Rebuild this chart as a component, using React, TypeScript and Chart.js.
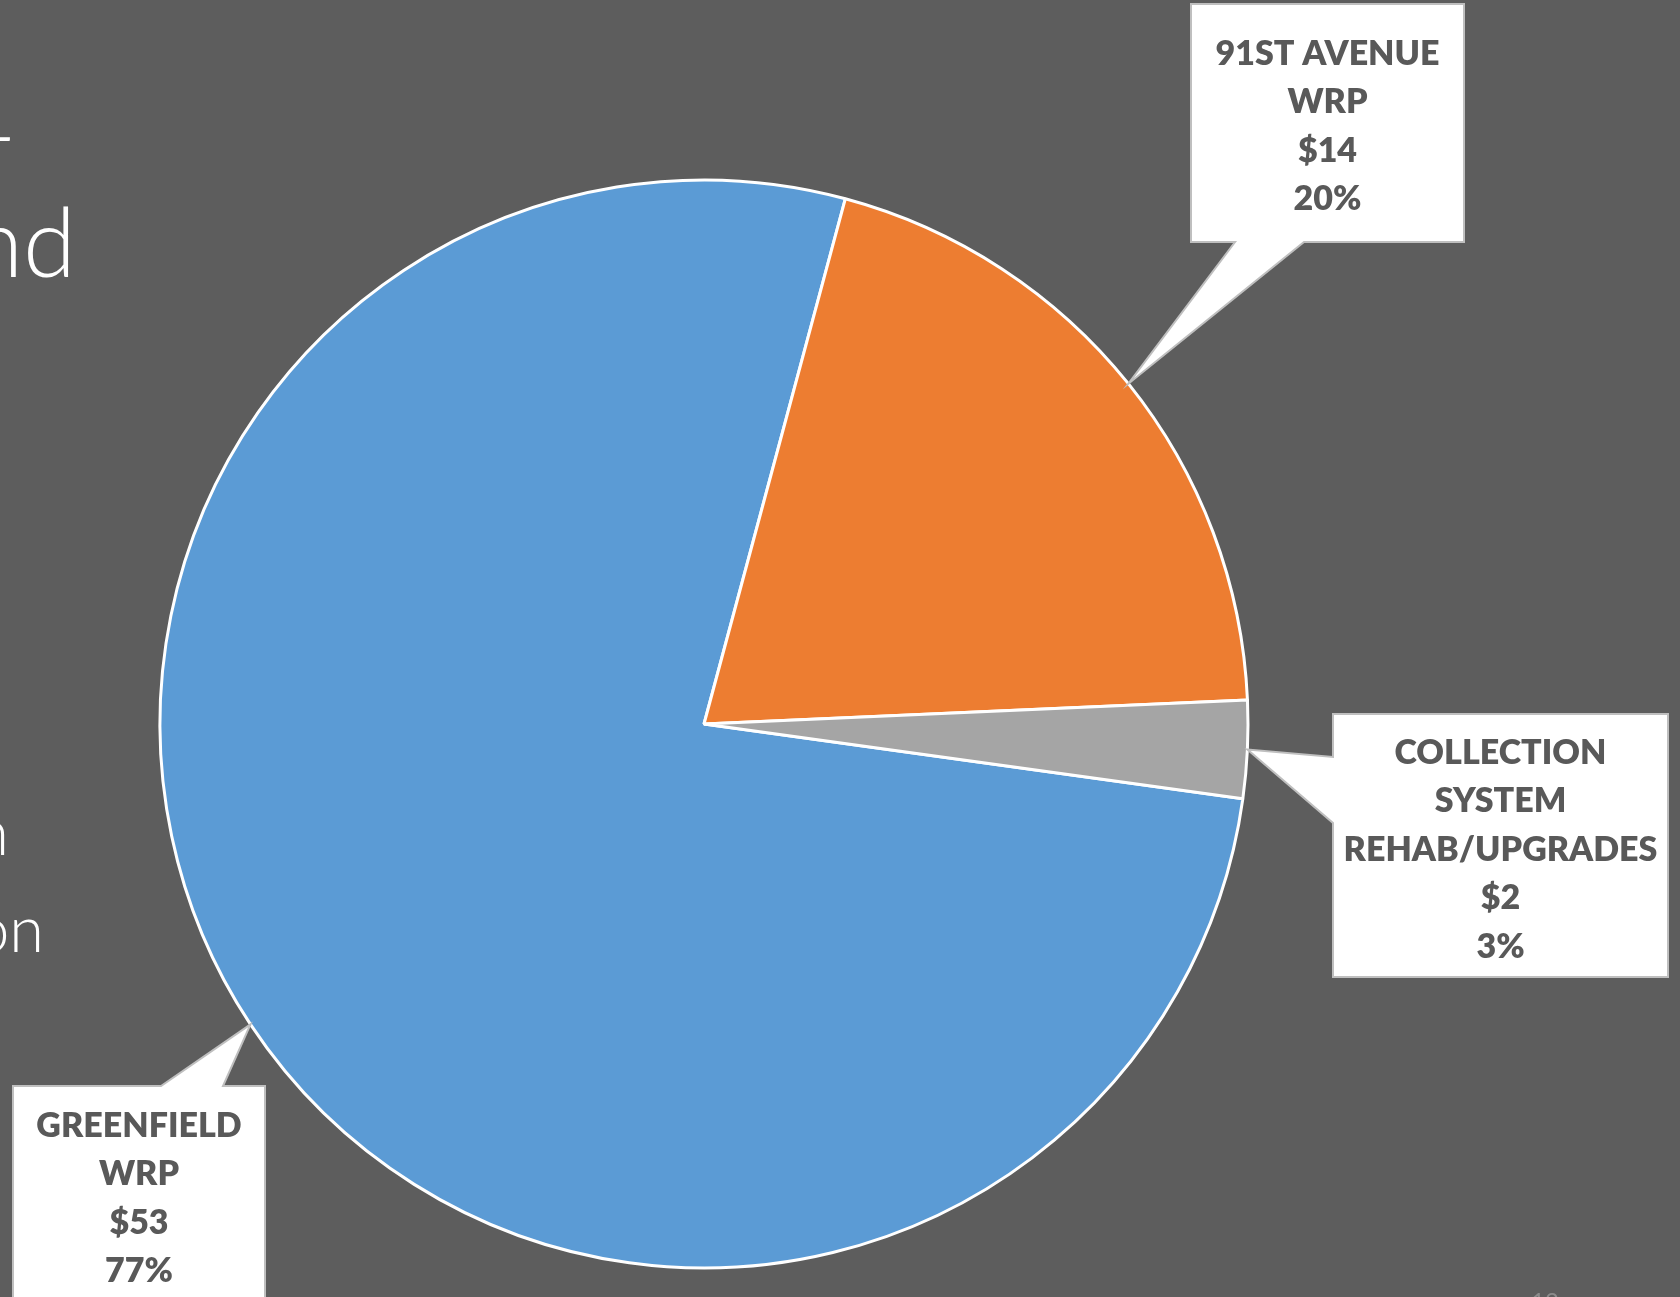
import React, { useEffect, useRef } from "react";
import { Chart, registerables } from "chart.js";

Chart.register(...registerables);

// ---- data ----
const categories = ["GREENFIELD WRP", "91ST AVENUE WRP", "COLLECTION SYSTEM REHAB/UPGRADES"];
// slice sizes (labels show rounded $ values)
const values = [53.2, 13.9, 2.0];
const labelLines = [["GREENFIELD", "WRP"], ["91ST AVENUE", "WRP"], ["COLLECTION", "SYSTEM", "REHAB/UPGRADES"]];
const valueLabels = ["$53", "$14", "$2"];
const percentLabels = ["77%", "20%", "3%"];
const colors = ["#5B9BD5", "#ED7D31", "#A5A5A5"];

// background slide text fragments (cut off at the left edge)
const slideFragments = ["4", "nd", "n", "on"];
const pageNumber = "12";

// ---- layout (positions of callout boxes) ----
type Callout = { box: [number, number, number, number]; side: "top" | "bottom" | "left"; base: [number, number]; firstLineY: number };
const callouts: Callout[] = [
  { box: [13, 1086, 265, 1340], side: "top", base: [161, 223], firstLineY: 1126 },
  { box: [1191, 4, 1464, 242], side: "bottom", base: [1304, 1235], firstLineY: 54 },
  { box: [1333, 714, 1668, 977], side: "left", base: [823, 757], firstLineY: 753 },
];
const fragmentPos = [
  { right: 13, baseline: 161, size: 96 },
  { right: 76, baseline: 277, size: 96 },
  { right: 9, baseline: 855, size: 63 },
  { right: 44, baseline: 952, size: 63 },
];

const W = 1680;
const H = 1297;

const calloutPlugin = {
  id: "callouts",
  afterDraw(chart: any) {
    const ctx: CanvasRenderingContext2D = chart.ctx;
    const meta = chart.getDatasetMeta(0);
    ctx.save();
    // slide text fragments
    ctx.fillStyle = "#FFFFFF";
    ctx.textAlign = "right";
    ctx.textBaseline = "alphabetic";
    slideFragments.forEach((t, i) => {
      const p = fragmentPos[i];
      ctx.font = `300 ${p.size}px Lato, "Open Sans", sans-serif`;
      ctx.fillText(t, p.right, p.baseline);
    });
    ctx.fillStyle = "#8C8C8C";
    ctx.textAlign = "left";
    ctx.font = `24px Lato, sans-serif`;
    ctx.fillText(pageNumber, 1531, 1310);

    meta.data.forEach((arc: any, i: number) => {
      const c = callouts[i];
      if (!c) return;
      const mid = (arc.startAngle + arc.endAngle) / 2;
      const tx = arc.x + Math.cos(mid) * arc.outerRadius;
      const ty = arc.y + Math.sin(mid) * arc.outerRadius;
      const [L, T, R, B] = c.box;
      let pts: [number, number][] = [];
      if (c.side === "top") {
        pts = [[L, T], [c.base[0], T], [tx, ty], [c.base[1], T], [R, T], [R, B], [L, B]];
      } else if (c.side === "bottom") {
        pts = [[L, T], [R, T], [R, B], [c.base[0], B], [tx, ty], [c.base[1], B], [L, B]];
      } else {
        pts = [[L, T], [R, T], [R, B], [L, B], [L, c.base[0]], [tx, ty], [L, c.base[1]]];
      }
      ctx.beginPath();
      pts.forEach(([x, y], k) => (k === 0 ? ctx.moveTo(x, y) : ctx.lineTo(x, y)));
      ctx.closePath();
      ctx.fillStyle = "#FFFFFF";
      ctx.fill();
      ctx.lineWidth = 2;
      ctx.strokeStyle = "#BFBFBF";
      ctx.stroke();

      const lines = [...labelLines[i], valueLabels[i], percentLabels[i]];
      ctx.fillStyle = "#595959";
      ctx.textAlign = "center";
      ctx.textBaseline = "middle";
      ctx.font = `800 34px Lato, "Open Sans", sans-serif`;
      const cx = (L + R) / 2;
      lines.forEach((t, k) => ctx.fillText(t, cx, c.firstLineY + k * 48.5));
    });
    ctx.restore();
  },
};

export default function App() {
  const ref = useRef<HTMLCanvasElement | null>(null);
  useEffect(() => {
    if (!ref.current) return;
    const chart = new Chart(ref.current, {
      type: "pie",
      data: {
        labels: categories,
        datasets: [
          {
            data: values,
            backgroundColor: colors,
            borderColor: "#FFFFFF",
            borderWidth: 3,
          },
        ],
      },
      options: {
        animation: false,
        responsive: false,
        devicePixelRatio: 1,
        rotation: 97.9,
        layout: { padding: { left: 158.5, right: 430.5, top: 178.5, bottom: 27.5 } },
        plugins: {
          legend: { display: false },
          tooltip: { enabled: false },
          title: { display: false },
        },
      },
      plugins: [calloutPlugin],
    });
    return () => chart.destroy();
  }, []);
  return (
    <div style={{ position: "fixed", left: 0, top: 0, width: W, height: H, background: "#5D5D5D", overflow: "hidden" }}>
      <canvas ref={ref} width={W} height={H} style={{ width: W, height: H, display: "block" }} />
    </div>
  );
}
